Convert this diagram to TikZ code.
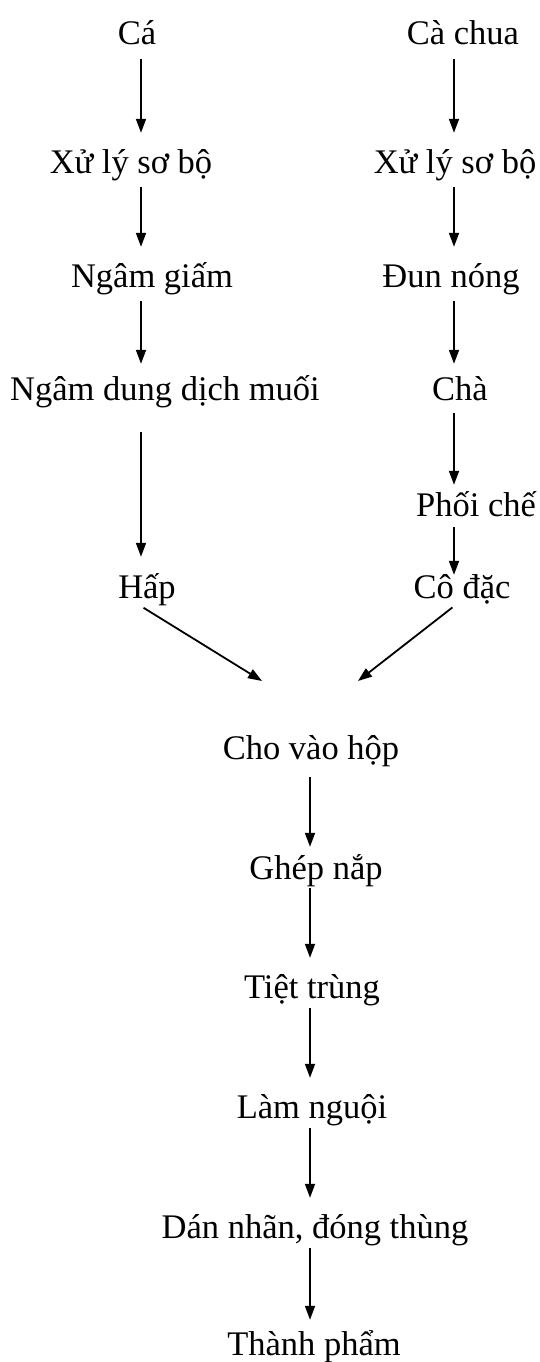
\documentclass[tikz,border=0pt]{standalone}
\usepackage{fontspec}
\setmainfont{Liberation Serif}
\usetikzlibrary{arrows.meta}
\begin{document}
\begin{tikzpicture}[x=1pt,y=-1pt,
  lbl/.style={anchor=base,inner sep=0pt,text height=31pt,text depth=8pt,
    font=\fontsize{34.5pt}{40pt}\selectfont},
  arr/.style={line width=1.8pt,-{Triangle[length=14pt,width=10pt]}}]
\fill[white] (0,0) rectangle (540,1362);
\useasboundingbox (0,0) rectangle (540,1362);
\coordinate (cL) at (141,0);
\coordinate (cR) at (454,0);
\coordinate (cM) at (310,0);
% left column
\node[lbl] (ca)  at (137,45)  {Cá};
\node[lbl] (xl1) at (131,173) {Xử lý sơ bộ};
\node[lbl] (ng)  at (152,287) {Ngâm giấm};
\node[lbl] (ndm) at (165,400) {Ngâm dung dịch muối};
\node[lbl] (hap) at (147,598) {Hấp};
% right column
\node[lbl] (cc)  at (463,45)  {Cà chua};
\node[lbl] (xl2) at (455,173) {Xử lý sơ bộ};
\node[lbl] (dn)  at (451,287) {Đun nóng};
\node[lbl] (cha) at (460,400) {Chà};
\node[lbl] (pc)  at (476,516) {Phối chế};
\node[lbl] (cd)  at (462,598) {Cô đặc};
% middle column
\node[lbl] (cvh) at (311,759)  {Cho vào hộp};
\node[lbl] (gn)  at (316,879)  {Ghép nắp};
\node[lbl] (tt)  at (312,998)  {Tiệt trùng};
\node[lbl] (ln)  at (312,1118) {Làm nguội};
\node[lbl] (dnt) at (315,1238) {Dán nhãn, đóng thùng};
\node[lbl] (tp)  at (314,1355) {Thành phẩm};
\coordinate (jl) at (262,681);
\coordinate (jr) at (358,681);
% left arrows
\draw[arr,shorten <=6pt,shorten >=9pt] (ca.south -| cL) -- (xl1.north -| cL);
\draw[arr,shorten <=6pt,shorten >=9pt] (xl1.south -| cL) -- (ng.north -| cL);
\draw[arr,shorten <=6pt,shorten >=5pt] (ng.south -| cL) -- (ndm.north -| cL);
\draw[arr,shorten <=24pt,shorten >=10pt] (ndm.south -| cL) -- (hap.north -| cL);
% right arrows
\draw[arr,shorten <=6pt,shorten >=9pt] (cc.south -| cR) -- (xl2.north -| cR);
\draw[arr,shorten <=6pt,shorten >=9pt] (xl2.south -| cR) -- (dn.north -| cR);
\draw[arr,shorten <=6pt,shorten >=5pt] (dn.south -| cR) -- (cha.north -| cR);
\draw[arr,shorten <=5pt] (cha.south -| cR) -- (pc.north -| cR);
\draw[arr,shorten <=3pt,shorten >=-8pt] (pc.south -| cR) -- (cd.north -| cR);
% merging arrows
\draw[arr,shorten <=3pt] (hap.south -| cL) -- (jl);
\draw[arr,shorten <=2pt] (cd.south -| cR) -- (jr);
% middle arrows
\draw[arr,shorten <=10pt,shorten >=1pt] (cvh.south -| cM) -- (gn.north -| cM);
\draw[arr,shorten <=1pt,shorten >=9pt] (gn.south -| cM) -- (tt.north -| cM);
\draw[arr,shorten <=2pt,shorten >=9pt] (tt.south -| cM) -- (ln.north -| cM);
\draw[arr,shorten <=2pt,shorten >=9pt] (ln.south -| cM) -- (dnt.north -| cM);
\draw[arr,shorten <=2pt,shorten >=4pt] (dnt.south -| cM) -- (tp.north -| cM);
\end{tikzpicture}
\end{document}
